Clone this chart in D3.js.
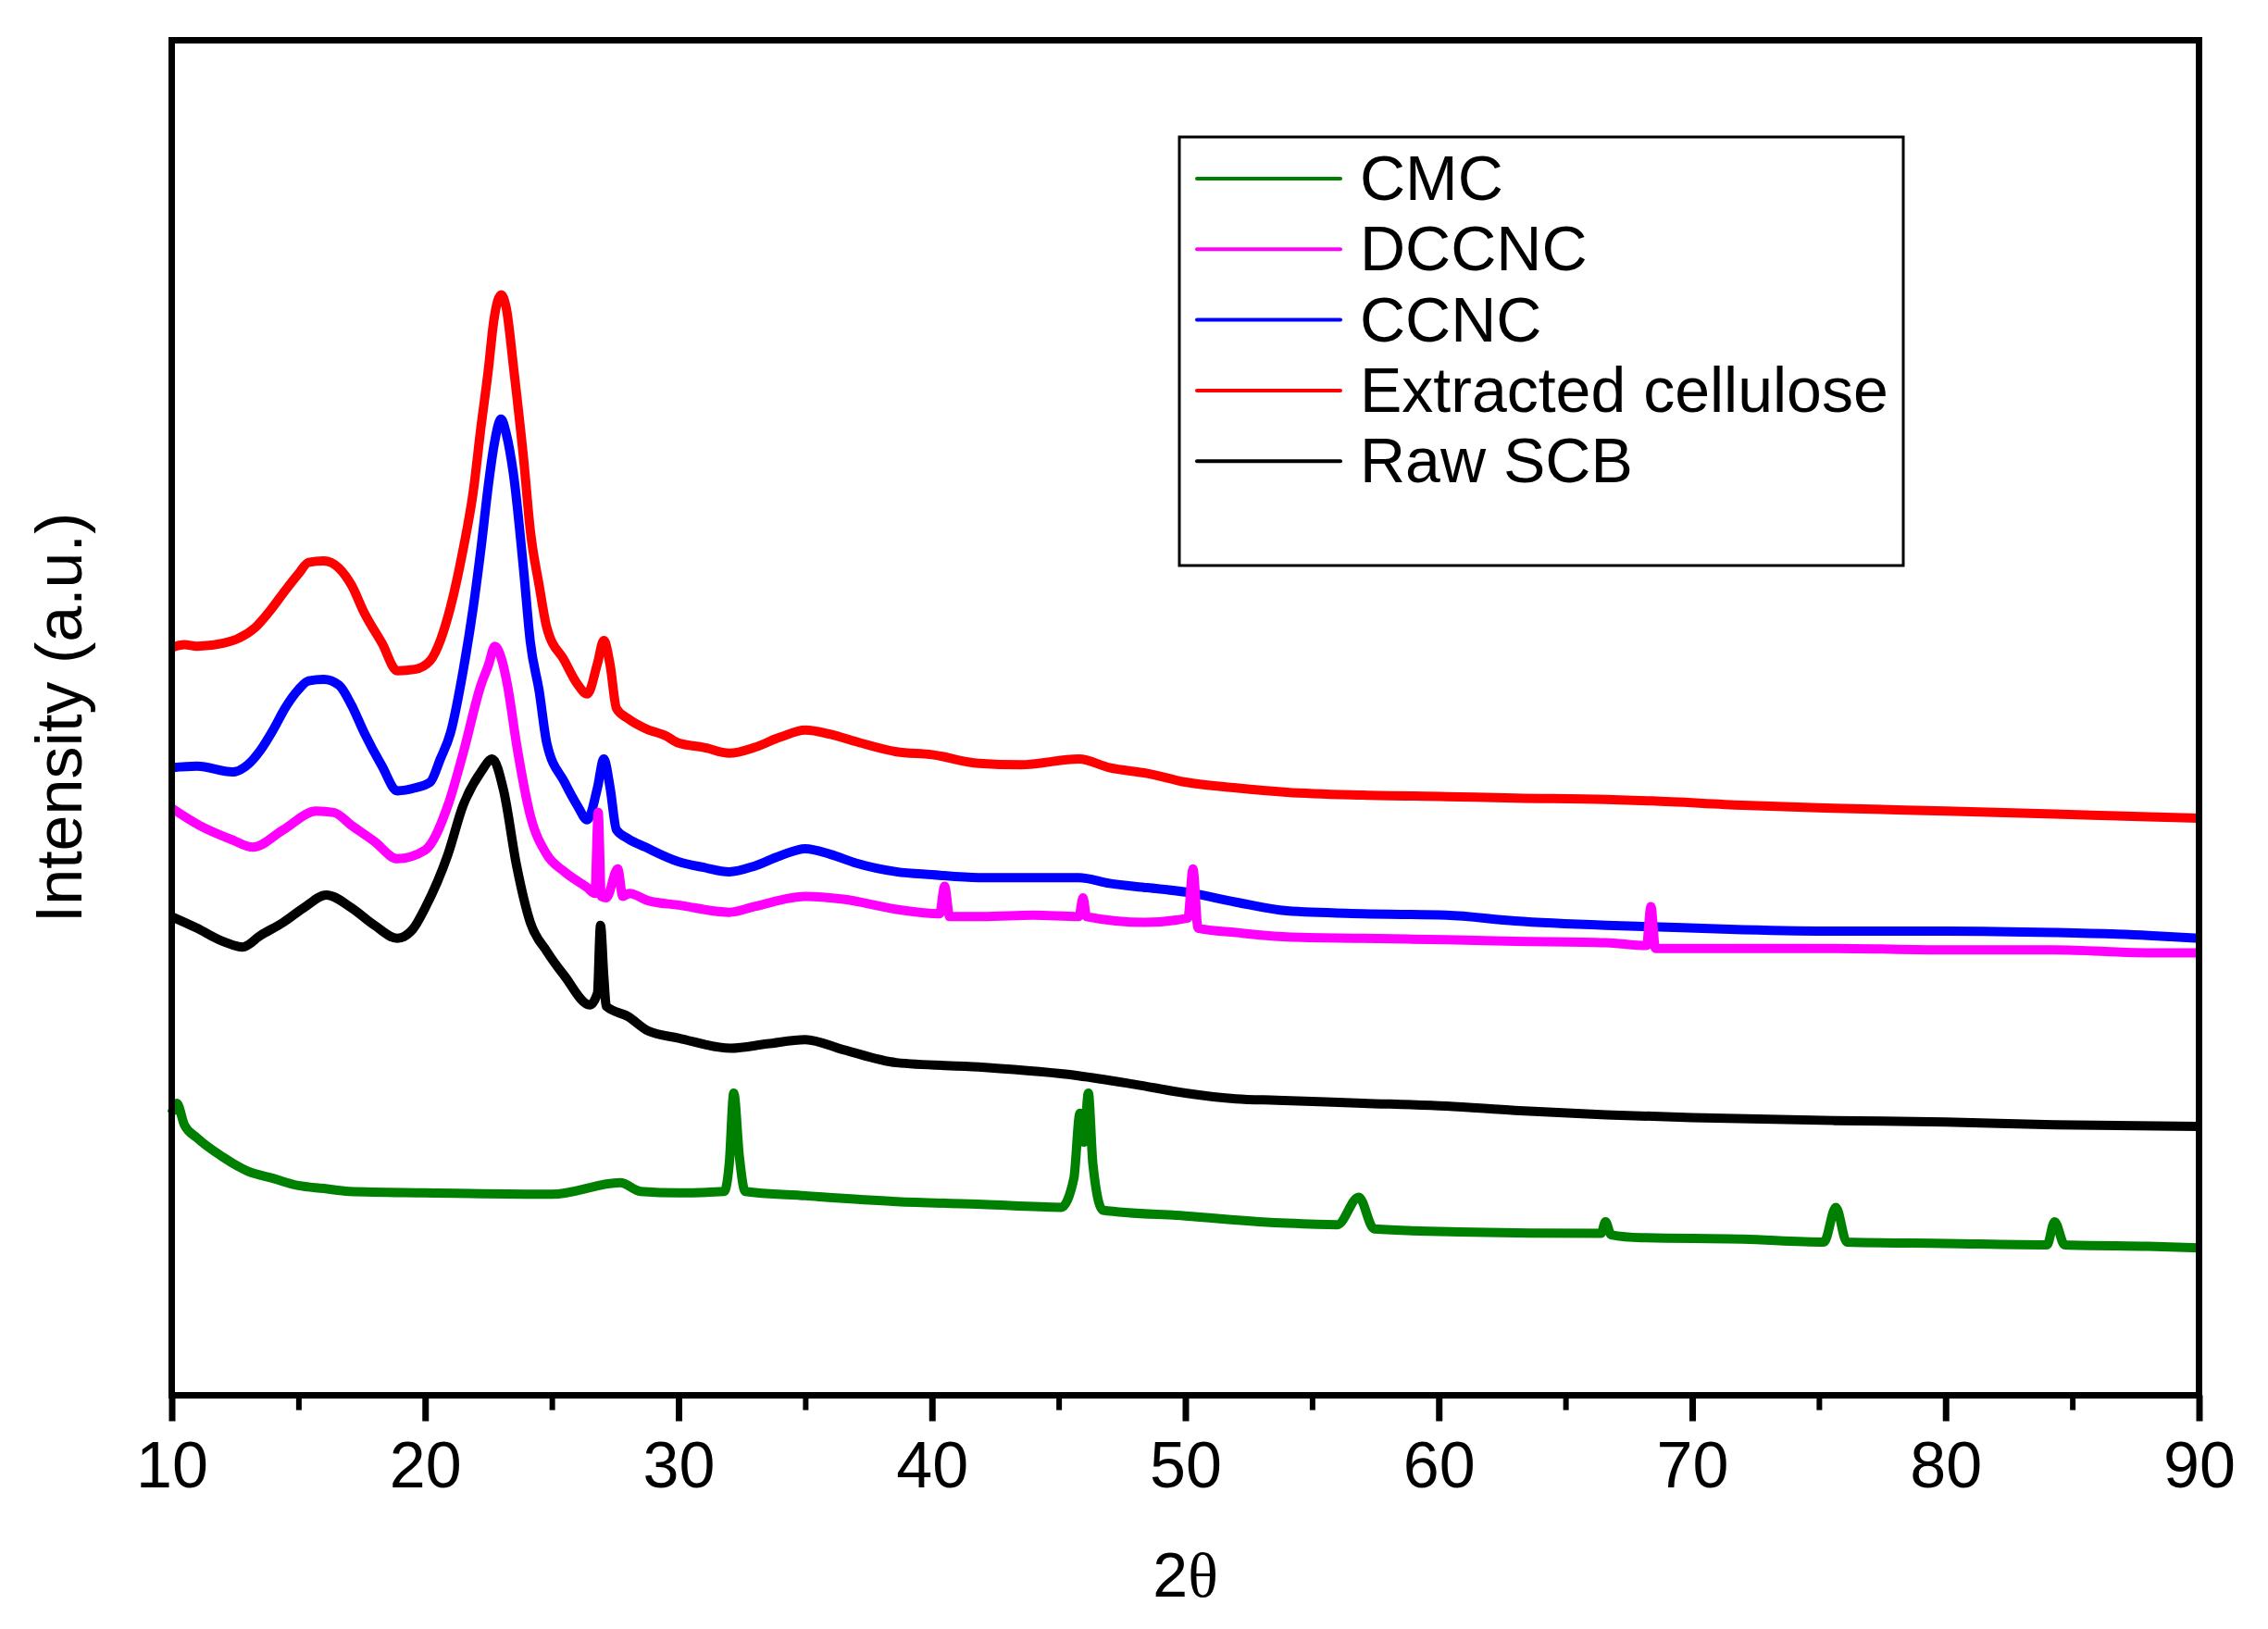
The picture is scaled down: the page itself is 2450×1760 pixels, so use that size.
<!DOCTYPE html>
<html>
<head>
<meta charset="utf-8">
<script src="https://cdn.jsdelivr.net/npm/d3@7"></script>
<style>
  body { margin: 0; background: #fff; }
  text { font-family: "Liberation Sans", Arial, sans-serif; fill: #000; }
</style>
</head>
<body>
<div class="xrd"></div>
<script>
// series, intensity in arbitrary units (0 = bottom of frame)
var raw_x = [10, 11, 12, 12.8, 13.5, 14.4, 15.2, 16.1, 17.1, 18, 18.9, 19.5, 20, 20.9, 21.5, 22.2, 22.65, 23.1, 23.6, 24.15, 24.8, 25.5, 26.5, 26.8, 26.92, 27.05, 27.15, 28, 28.8, 30, 32.06, 33.5, 35, 36.5, 38.6, 41.85, 45.77, 48, 50, 52, 53.6, 57, 60.3, 63, 66.6, 70, 75.6, 80, 84.3, 90]
var raw_y = [331, 323, 314, 310, 318, 327, 337, 346, 337, 325, 316, 322, 337, 374, 408, 431, 440, 418, 367, 327, 307, 290, 270, 278, 325, 290, 269, 262, 252, 247, 240, 243, 246, 239, 230, 227, 221, 215, 209, 205, 204, 202, 200, 197, 194, 192, 190, 189, 187, 186]

var cel_x = [10, 10.5, 11, 12, 12.7, 13.3, 13.9, 14.5, 15, 15.4, 16, 16.6, 17.1, 17.6, 18.3, 18.9, 19.6, 20.2, 20.6, 21, 21.5, 21.9, 22.2, 22.5, 22.7, 23, 23.2, 23.5, 23.9, 24.15, 24.5, 24.8, 25.5, 26, 26.4, 26.8, 27.05, 27.3, 27.55, 28, 28.7, 29.5, 30, 31, 32, 33, 34, 35, 36, 37, 38.6, 40, 41.85, 43.5, 45.8, 47, 48.5, 50, 52, 54, 57, 60.3, 63, 66.6, 68.4, 72, 75.6, 80, 84.3, 88, 90]
var cel_y = [517, 519, 518, 520, 524, 531, 543, 557, 568, 576, 577, 572, 560, 541, 520, 501, 502, 508, 522, 545, 585, 625, 669, 710, 742, 761, 752, 709, 645, 598, 560, 531, 508, 492, 485, 506, 522, 505, 475, 468, 461, 456, 451, 448, 444, 448, 455, 460, 457, 452, 445, 443, 437, 436, 440, 434, 430, 424, 420, 417, 415, 414, 413, 412, 411, 408, 406, 404, 402, 400, 399]

var ccnc_x = [10, 11, 12.4, 13, 13.5, 14, 14.5, 15, 15.4, 16, 16.6, 17.1, 17.6, 18.3, 18.9, 19.6, 20.2, 20.6, 21, 21.5, 21.9, 22.2, 22.5, 22.7, 23, 23.2, 23.5, 23.9, 24.15, 24.5, 24.8, 25.5, 26, 26.4, 26.8, 27.05, 27.3, 27.55, 28, 28.7, 30, 31, 32, 33, 34, 35, 36, 37, 38.6, 40, 41.85, 43.5, 45.8, 47, 48.5, 50, 52, 54, 57, 60.3, 63, 66.6, 68.4, 72, 75.6, 80, 84.3, 88, 90]
var ccnc_y = [434, 435, 431, 436, 446, 460, 476, 488, 494, 495, 491, 477, 458, 435, 418, 420, 424, 440, 458, 501, 545, 585, 630, 655, 675, 665, 635, 568, 521, 487, 451, 424, 408, 398, 420, 440, 420, 391, 385, 379, 369, 365, 362, 366, 373, 378, 374, 368, 362, 360, 358, 358, 358, 354, 351, 348, 341, 335, 333, 332, 328, 325, 324, 322, 321, 321, 320, 318, 316]

var dccnc_x = [10, 11.1, 12.4, 13.2, 14.4, 15.7, 16.4, 17.1, 18, 18.9, 20, 20.9, 21.5, 22.2, 22.5, 22.75, 23, 23.25, 23.6, 24.15, 24.8, 25.5, 26.4, 26.7, 26.83, 26.95, 27.15, 27.6, 27.8, 28.06, 28.8, 30, 32, 33, 35, 36.5, 38.6, 40.3, 40.5, 40.7, 42, 44, 45.8, 45.96, 46.1, 48.4, 50.1, 50.3, 50.5, 52, 54, 57, 60.3, 63, 66.6, 68.2, 68.37, 68.55, 72, 75.6, 80, 84.3, 88, 90]
var dccnc_y = [406, 394, 384, 379, 391, 404, 403, 394, 383, 371, 377, 408, 444, 491, 505, 518, 510, 491, 451, 401, 374, 362, 351, 347, 403, 345, 344, 364, 345, 347, 342, 339, 334, 338, 345, 343, 336, 333, 352, 331, 331, 332, 331, 344, 331, 327, 330, 364, 323, 320, 317, 316, 315, 314, 313, 311, 338, 309, 309, 309, 308, 308, 306, 306]

var cmc_x = [10, 10.2, 10.5, 11, 12, 13, 14, 15, 16, 17, 20, 25, 27.7, 28.5, 30, 31.8, 32, 32.18, 32.4, 32.63, 35, 38.6, 42, 45.1, 45.6, 45.84, 46, 46.17, 46.35, 46.74, 50, 54, 56, 56.84, 57.45, 60.8, 66.4, 66.58, 66.8, 68, 72, 75.2, 75.67, 76.1, 80, 84, 84.3, 84.7, 88, 90]
var cmc_y = [195, 202, 187, 178, 165, 155, 150, 145, 143, 141, 140, 139, 147, 141, 140, 141, 160, 209, 165, 141, 138, 134, 132, 130, 150, 195, 175, 209, 160, 128, 124, 119, 118, 137, 115, 113, 112, 120, 111, 109, 108, 106, 130, 106, 105, 104, 120, 104, 103, 102]

var seriesNames = ["CMC", "DCCNC", "CCNC", "Extracted cellulose", "Raw SCB"]
var seriesColors = ["#008000", "#ff00ff", "#0000ff", "#ff0000", "#000000"]
var xTicks = [10, 20, 30, 40, 50, 60, 70, 80, 90]
var xMinorTicks = [15, 25, 35, 45, 55, 65, 75, 85]

var W = 2450, H = 1760
var margin = {top: 43.5, right: 74.5, bottom: 252.5, left: 185.5}
var width = W - margin.left - margin.right
var height = H - margin.top - margin.bottom

var xScale = d3.scaleLinear().domain([10, 90]).range([0, width])
var yScale = d3.scaleLinear().domain([0, 937]).range([height, 0])

var svg = d3.select(".xrd")
    .append("svg")
        .attr("width", W)
        .attr("height", H)
    .append("g")
        .attr("transform", "translate(" + margin.left + "," + margin.top + ")")

function zipSeries(xs, ys) {
    return xs.map((x, i) => ({x: x, y: ys[i]}))
}

var series = [
    {name: seriesNames[0], color: seriesColors[0], pts: zipSeries(cmc_x, cmc_y)},
    {name: seriesNames[1], color: seriesColors[1], pts: zipSeries(dccnc_x, dccnc_y)},
    {name: seriesNames[2], color: seriesColors[2], pts: zipSeries(ccnc_x, ccnc_y)},
    {name: seriesNames[3], color: seriesColors[3], pts: zipSeries(cel_x, cel_y)},
    {name: seriesNames[4], color: seriesColors[4], pts: zipSeries(raw_x, raw_y)}
]

var line = d3.line()
    .curve(d3.curveMonotoneX)
    .x(d => xScale(d.x))
    .y(d => yScale(d.y))

// draw bottom-most first so the upper traces sit on top
svg.selectAll(".trace")
    .data(series.slice().reverse())
    .enter().append("path")
        .attr("class", "trace")
        .attr("d", d => line(d.pts))
        .attr("fill", "none")
        .attr("stroke", d => d.color)
        .attr("stroke-width", 10)
        .attr("stroke-linejoin", "round")

// x axis, major + minor ticks
var xAxis = d3.axisBottom(xScale).tickValues(xTicks).tickSize(28).tickPadding(22).tickSizeOuter(0)
var gx = svg.append("g")
    .attr("transform", "translate(0," + height + ")")
    .call(xAxis)
gx.select(".domain").remove()
gx.selectAll(".tick line").attr("stroke", "#000").attr("stroke-width", 7)
gx.selectAll(".tick text")
    .style("font-size", "70px")
    .style("font-family", "'Liberation Sans', Arial, sans-serif")

var xMinor = d3.axisBottom(xScale).tickValues(xMinorTicks).tickSize(16).tickFormat("")
var gm = svg.append("g")
    .attr("transform", "translate(0," + height + ")")
    .call(xMinor)
gm.select(".domain").remove()
gm.selectAll(".tick line").attr("stroke", "#000").attr("stroke-width", 6)

// frame
svg.append("rect")
    .attr("x", 0)
    .attr("y", 0)
    .attr("width", width)
    .attr("height", height)
    .attr("fill", "none")
    .attr("stroke", "#000")
    .attr("stroke-width", 7)

// axis titles
var xLabel = svg.append("text")
    .attr("x", width / 2)
    .attr("y", 1725 - margin.top)
    .style("text-anchor", "middle")
    .style("font-size", "68px")
xLabel.append("tspan").text("2")
xLabel.append("tspan").style("font-family", "'Liberation Serif', 'Times New Roman', serif").text("θ")

svg.append("text")
    .attr("transform", "translate(" + (88 - margin.left) + "," + (height / 2) + ") rotate(-90)")
    .style("text-anchor", "middle")
    .style("font-size", "70px")
    .text("Intensity (a.u.)")

// legend
var lg = svg.append("g")
    .attr("transform", "translate(" + (1274 - margin.left) + "," + (148 - margin.top) + ")")
lg.append("rect")
    .attr("width", 782)
    .attr("height", 463)
    .attr("fill", "#fff")
    .attr("stroke", "#000")
    .attr("stroke-width", 3)

var rows = lg.selectAll(".lrow")
    .data(series)
    .enter().append("g")
        .attr("class", "lrow")
        .attr("transform", (d, i) => "translate(0," + (45 + i * 76.3) + ")")
rows.append("line")
    .attr("x1", 19)
    .attr("x2", 174)
    .attr("stroke", d => d.color)
    .attr("stroke-width", 4)
    .attr("stroke-linecap", "round")
rows.append("text")
    .attr("x", 195)
    .attr("y", 23)
    .style("font-size", "68px")
    .text(d => d.name)
</script>
</body>
</html>
